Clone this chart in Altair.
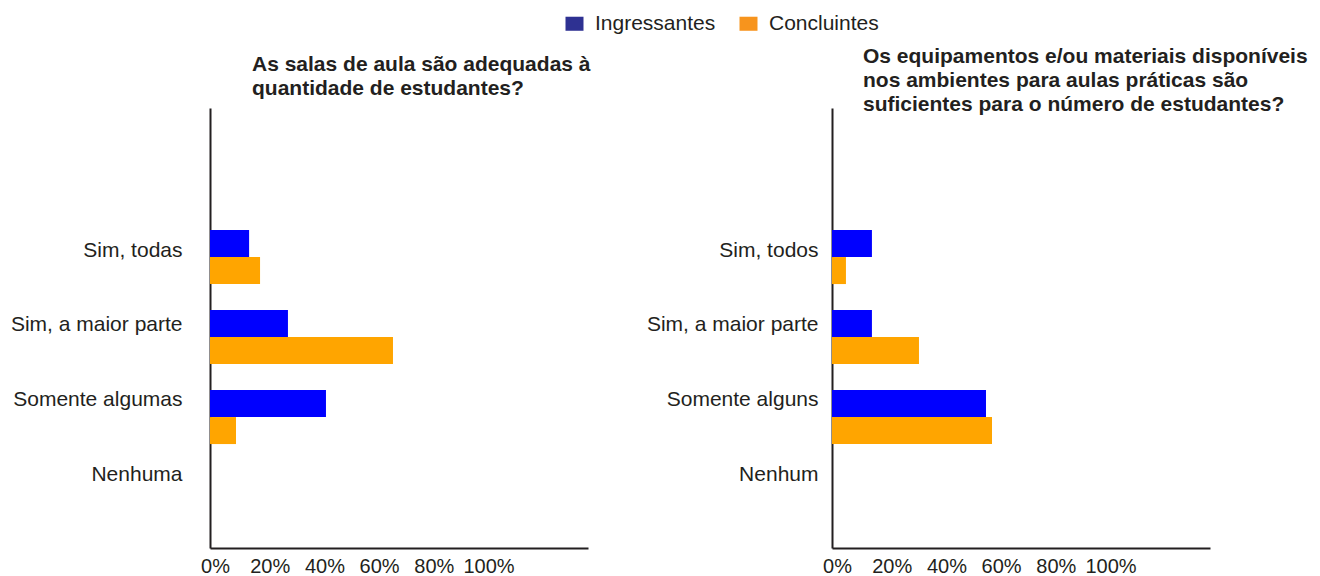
import altair as alt
import pandas as pd

series = ["Ingressantes", "Concluintes"]
bar_colors = ["#0000FF", "#FFA500"]
legend_colors = ["#2E3192", "#F7941D"]

cats_left = ["Sim, todas", "Sim, a maior parte", "Somente algumas", "Nenhuma"]
ing_left = [14.3, 28.5, 42.4, 0]
conc_left = [18.3, 66.9, 9.5, 0]
title_left = ["As salas de aula são adequadas à", "quantidade de estudantes?"]

cats_right = ["Sim, todos", "Sim, a maior parte", "Somente alguns", "Nenhum"]
ing_right = [14.6, 14.6, 56.3, 0]
conc_right = [5.1, 31.8, 58.5, 0]
title_right = ["Os equipamentos e/ou materiais disponíveis",
               "nos ambientes para aulas práticas são",
               "suficientes para o número de estudantes?"]

tick_values = [0, 20, 40, 60, 80, 100]

FONT = "Liberation Sans"
INK = "#231F20"


def make_df(cats, ing, conc):
    rows = []
    for c, a, b in zip(cats, ing, conc):
        rows.append({"categoria": c, "serie": series[0], "valor": a})
        rows.append({"categoria": c, "serie": series[1], "valor": b})
    return pd.DataFrame(rows)


def panel(cats, ing, conc, title_lines, label_pad, title_dx, title_offset, show_legend):
    df = make_df(cats, ing, conc)
    base = alt.Chart(df)
    x_scale = alt.Scale(domain=[0, 138.2], nice=False, zero=True)
    x_enc = alt.X(
        "valor:Q",
        scale=x_scale,
        axis=alt.Axis(values=tick_values, labelExpr="datum.value + '%'", title=None,
                      grid=False, ticks=False, domain=True, domainColor=INK, domainWidth=2,
                      labelFontSize=20, labelPadding=8, labelOffset=5, labelColor=INK,
                      labelFont=FONT, labelFlush=False),
    )
    bars = base.mark_bar().encode(
        x=x_enc,
        y=alt.Y("categoria:N",
                scale=alt.Scale(type="band", domain=cats, paddingInner=0.325,
                                paddingOuter=0.9125, align=0.836),
                axis=None),
        yOffset=alt.YOffset("serie:N", scale=alt.Scale(domain=series, paddingInner=0, paddingOuter=0)),
        fill=alt.Fill("serie:N", scale=alt.Scale(domain=series, range=bar_colors), legend=None),
    )
    if show_legend:
        legend = alt.Legend(title=None, orient="none", direction="horizontal",
                            legendX=354, legendY=-95,
                            symbolType="M-1,-0.78H1V0.78H-1Z", symbolSize=324,
                            symbolOpacity=1, symbolStrokeWidth=0,
                            labelFontSize=21, labelFont=FONT, labelColor=INK,
                            labelOffset=10, columnPadding=22)
    else:
        legend = None
    # hidden helper layer: carries the category axis labels and the legend
    guide = base.mark_square(clip=True).encode(
        x=alt.datum(-100),
        y=alt.Y("categoria:N",
                scale=alt.Scale(type="band", domain=cats, paddingInner=0.11,
                                paddingOuter=1, align=0.7326),
                axis=alt.Axis(orient="left", title=None, ticks=False, grid=False, domain=True,
                              domainColor=INK, domainWidth=2, labelFontSize=21,
                              labelPadding=label_pad, labelColor=INK, labelFont=FONT)),
        color=alt.Color("serie:N", scale=alt.Scale(domain=series, range=legend_colors),
                        legend=legend),
    )
    return alt.layer(bars, guide).resolve_scale(y="independent").properties(
        width=378, height=440,
        title=alt.TitleParams(text=title_lines, anchor="start", frame="group", dx=title_dx,
                              fontSize=21, fontWeight="bold", font=FONT, color=INK,
                              lineHeight=24, baseline="bottom", offset=title_offset),
    )


left = panel(cats_left, ing_left, conc_left, title_left, 28, 42, -107, True)
right = panel(cats_right, ing_right, conc_right, title_right, 14, 31, -28, False)

chart = alt.hconcat(left, right, spacing=244, bounds="flush").resolve_legend(
    color="independent"
).properties(
    padding={"left": 2, "top": 5, "right": 0, "bottom": 0}
).configure_view(stroke=None)

chart.save("out.html", embed_options={"renderer": "svg", "actions": False})
